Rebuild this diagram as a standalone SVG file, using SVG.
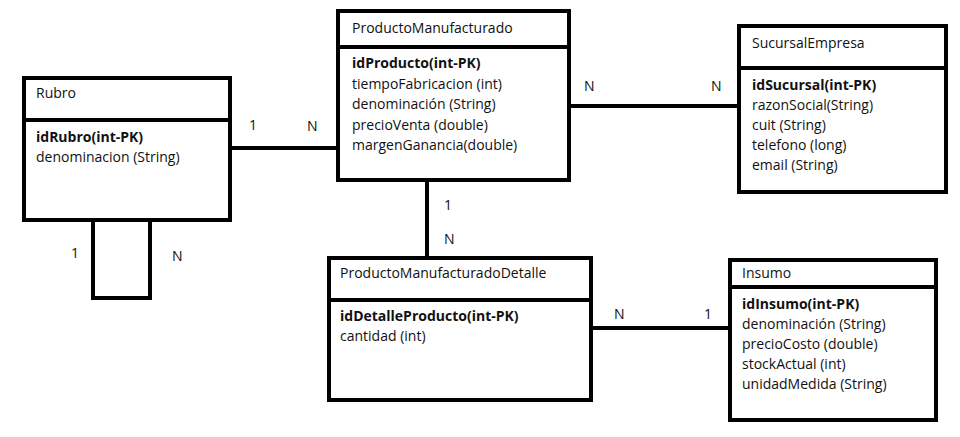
<svg xmlns="http://www.w3.org/2000/svg" width="960" height="437" viewBox="0 0 960 437">
<style>
.box{fill:#fff;stroke:#000;stroke-width:4}
.sep{stroke:#000;stroke-width:4}
.ln{fill:none;stroke:#000;stroke-width:4}
text{font-family:"Open Sans","Noto Sans","DejaVu Sans",sans-serif;font-size:14px;fill:#111}
.b{font-weight:bold}
.lbl{font-size:14px}
</style>
<rect width="960" height="437" fill="#fff"/>
<g id="connectors">
<path class="ln" d="M232 148H336"/>
<path class="ln" d="M571 106H737"/>
<path class="ln" d="M427 182V256"/>
<path class="ln" d="M592 328H730"/>
<path class="ln" d="M93 222V298H150V222"/>
<text class="lbl" x="249" y="130">1</text>
<text class="lbl" x="307" y="131">N</text>
<text class="lbl" x="584" y="91">N</text>
<text class="lbl" x="711" y="91">N</text>
<text class="lbl" x="444" y="210">1</text>
<text class="lbl" x="444" y="244">N</text>
<text class="lbl" x="614" y="319">N</text>
<text class="lbl" x="704" y="319">1</text>
<text class="lbl" x="71" y="258">1</text>
<text class="lbl" x="172" y="261">N</text>
</g>
<g id="rubro">
<rect class="box" x="24" y="78" width="206" height="142"/>
<line class="sep" x1="24" y1="120" x2="230" y2="120"/>
<text x="36" y="98">Rubro</text>
<text class="b" x="36" y="142">idRubro(int-PK)</text>
<text x="36" y="162">denominacion (String)</text>
</g>
<g id="productoManufacturado">
<rect class="box" x="338" y="11" width="231" height="169"/>
<line class="sep" x1="338" y1="47" x2="569" y2="47"/>
<text x="352" y="33">ProductoManufacturado</text>
<text class="b" x="352" y="68">idProducto(int-PK)</text>
<text x="352" y="88.5">tiempoFabricacion (int)</text>
<text x="352" y="109">denominación (String)</text>
<text x="352" y="129.5">precioVenta (double)</text>
<text x="352" y="150">margenGanancia(double)</text>
</g>
<g id="sucursalEmpresa">
<rect class="box" x="739" y="26" width="207" height="166"/>
<line class="sep" x1="739" y1="68" x2="946" y2="68"/>
<text x="752" y="48">SucursalEmpresa</text>
<text class="b" x="752" y="90">idSucursal(int-PK)</text>
<text x="752" y="110">razonSocial(String)</text>
<text x="752" y="130">cuit (String)</text>
<text x="752" y="150">telefono (long)</text>
<text x="752" y="170">email (String)</text>
</g>
<g id="productoManufacturadoDetalle">
<rect class="box" x="329" y="258" width="262" height="142"/>
<line class="sep" x1="329" y1="300" x2="591" y2="300"/>
<text x="340" y="278">ProductoManufacturadoDetalle</text>
<text class="b" x="340" y="321">idDetalleProducto(int-PK)</text>
<text x="340" y="341">cantidad (int)</text>
</g>
<g id="insumo">
<rect class="box" x="730" y="260" width="206" height="160"/>
<line class="sep" x1="730" y1="287" x2="936" y2="287"/>
<text x="742" y="278">Insumo</text>
<text class="b" x="742" y="309">idInsumo(int-PK)</text>
<text x="742" y="329">denominación (String)</text>
<text x="742" y="349">precioCosto (double)</text>
<text x="742" y="369">stockActual (int)</text>
<text x="742" y="389">unidadMedida (String)</text>
</g>
</svg>
